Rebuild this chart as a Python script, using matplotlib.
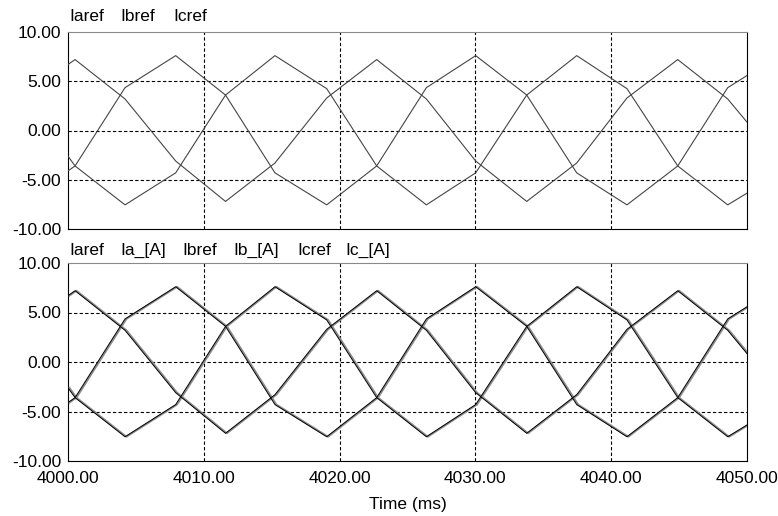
import numpy as np
import matplotlib.pyplot as plt

plt.rcParams['font.family'] = ['Liberation Sans', 'DejaVu Sans']
plt.rcParams['font.size'] = 12.5

### Data (time offset in ms from 4000) ###

t_ms = [0.0, 0.52, 4.2, 7.93, 11.6, 15.24, 19.05, 22.73, 26.39, 30.02,
        33.78, 37.46, 41.16, 44.9, 48.58, 50.0]

ia_ref = [6.7, 7.2, 3.2, -3.1, -7.2, -3.3, 3.3, 7.2, 3.2, -3.1,
          -7.2, -3.3, 3.3, 7.2, 3.2, 0.85]
ib_ref = [-4.1, -3.6, 4.35, 7.6, 3.6, -4.3, -7.55, -3.6, 4.35, 7.6,
          3.6, -4.3, -7.55, -3.6, 4.35, 5.58]
ic_ref = [-2.6, -3.6, -7.55, -4.3, 3.6, 7.6, 4.25, -3.6, -7.55, -4.3,
          3.6, 7.6, 4.25, -3.6, -7.55, -6.36]

# measured currents track the references closely, slightly lagging
ia_meas = list(ia_ref)
ib_meas = list(ib_ref)
ic_meas = list(ic_ref)
meas_lag_ms = 0.1

x_ticks = [4000, 4010, 4020, 4030, 4040, 4050]
y_ticks = [-10, -5, 0, 5, 10]

top_labels = ["Iaref", "Ibref", "Icref"]
bot_labels = ["Iaref", "Ia_[A]", "Ibref", "Ib_[A]", "Icref", "Ic_[A]"]

### Figure ###

W, H = 778, 516
fig = plt.figure(figsize=(W / 100, H / 100), dpi=100)
ax1 = fig.add_axes([68 / W, 1 - 229 / H, 679 / W, 197 / H])
ax2 = fig.add_axes([68 / W, 1 - 461 / H, 679 / W, 198 / H])

t = 4000 + np.array(t_ms)

for ax in (ax1, ax2):
    ax.set_xlim(4000, 4050)
    ax.set_ylim(-10, 10)
    ax.set_xticks(x_ticks)
    ax.set_yticks(y_ticks)
    ax.set_yticklabels(["%.2f" % v for v in y_ticks])
    ax.tick_params(length=0, pad=5)
    for v in [-5, 0, 5]:
        ax.axhline(v, color='black', lw=0.8, ls=(0, (3, 2)), zorder=1)
    for v in x_ticks[1:-1]:
        ax.axvline(v, color='black', lw=0.8, ls=(0, (3, 2)), zorder=1)
    for s in ['left', 'bottom', 'right']:
        ax.spines[s].set_color('black')
    ax.spines['top'].set_color('#8a8a8a')

ax1.tick_params(labelbottom=False)
ax2.set_xticklabels(["%.2f" % v for v in x_ticks])
ax2.tick_params(axis='x', pad=7)

# top panel: references only
for y in (ia_ref, ib_ref, ic_ref):
    ax1.plot(t, y, color='#454545', lw=0.8, zorder=3)

# bottom panel: measured (grey) under references (black)
for y in (ia_meas, ib_meas, ic_meas):
    ax2.plot(t + meas_lag_ms, y, color='#8c8c8c', lw=1.4, zorder=3)
for y in (ia_ref, ib_ref, ic_ref):
    ax2.plot(t, y, color='black', lw=0.7, zorder=4)

ax2.set_xlabel("Time (ms)", labelpad=8)

# legend-like labels above each panel
for name, x in zip(top_labels, [69, 120.7, 173.3]):
    fig.text(x / W, 1 - 16.5 / H, name, va='center', ha='left')
for name, x in zip(bot_labels, [69, 120, 182.7, 233.3, 297.7, 345]):
    fig.text(x / W, 1 - 250.5 / H, name, va='center', ha='left')

fig.savefig("out.png", dpi=100)
